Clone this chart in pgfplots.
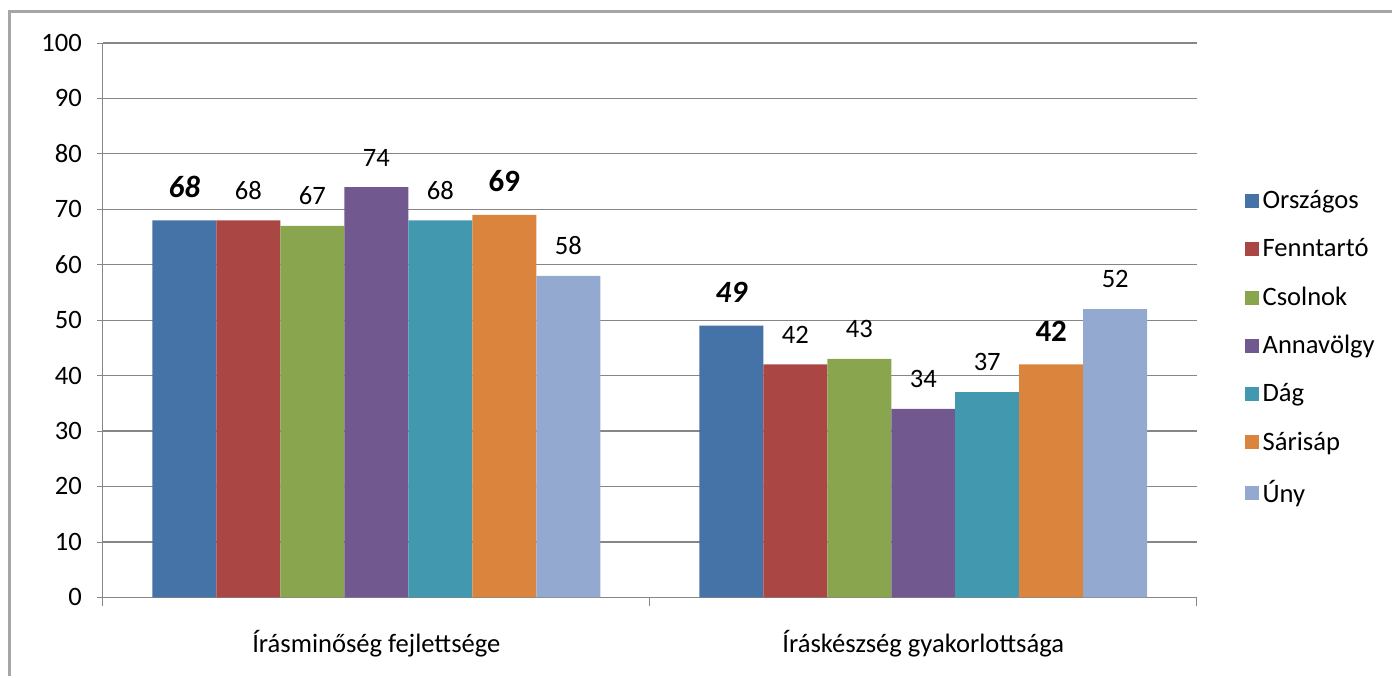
\documentclass[border=0pt]{standalone}
\usepackage{pgfplots}
\pgfplotsset{compat=1.18}
\usepackage{fontspec}
\setmainfont{Carlito}

\definecolor{cOrsz}{HTML}{4572A7}
\definecolor{cFenn}{HTML}{AA4643}
\definecolor{cCsol}{HTML}{89A54E}
\definecolor{cAnna}{HTML}{71588F}
\definecolor{cDag}{HTML}{4198AF}
\definecolor{cSari}{HTML}{DB843D}
\definecolor{cUny}{HTML}{93A9CF}
\definecolor{gridgray}{HTML}{868686}

\begin{document}
\begin{tikzpicture}
\begin{axis}[
    at={(0,0)}, anchor=south west,
    scale only axis,
    width=547.5pt, height=277.5pt,
    ybar=0pt,
    bar width=0.117,
    xmin=-0.5, xmax=1.5,
    ymin=0, ymax=100,
    ytick={0,10,...,100},
    xtick={0,1},
    xticklabels={Írásminőség fejlettsége, Íráskészség gyakorlottsága},
    minor xtick={-0.5,0.5,1.5},
    major x tick style={draw=none},
    tick align=outside,
    major tick length=3pt,
    minor tick length=4.5pt,
    every tick/.style={gridgray},
    axis x line*=bottom,
    axis y line*=left,
    axis line style={gridgray, -},
    ymajorgrids,
    grid style={gridgray, line width=0.6pt},
    font=\fontsize{13.3}{15}\selectfont,
    /pgf/number format/assume math mode=true,
    yticklabel style={xshift=-4pt},
    xticklabel style={yshift=-10pt},
    nodes near coords,
    nodes near coords style={font=\fontsize{13.3}{15}\selectfont, yshift=7pt},
    legend cell align=left,
    legend style={draw=none, at={(1.038,0.45)}, anchor=west,
        row sep=9.5pt, font=\fontsize{13.3}{15}\selectfont},
    legend image code/.code={\fill[#1] (0pt,-3.5pt) rectangle (7pt,3.5pt);},
]
\addplot[fill=cOrsz, draw=none, every node near coord/.append style={font=\fontsize{15.5}{17}\selectfont\bfseries\itshape, yshift=1pt}] coordinates {(0,68) (1,49)};
\addplot[fill=cFenn, draw=none] coordinates {(0,68) (1,42)};
\addplot[fill=cCsol, draw=none] coordinates {(0,67) (1,43)};
\addplot[fill=cAnna, draw=none] coordinates {(0,74) (1,34)};
\addplot[fill=cDag, draw=none] coordinates {(0,68) (1,37)};
\addplot[fill=cSari, draw=none, every node near coord/.append style={font=\fontsize{15.5}{17}\selectfont\bfseries, yshift=1pt}] coordinates {(0,69) (1,42)};
\addplot[fill=cUny, draw=none] coordinates {(0,58) (1,52)};
\legend{Országos, Fenntartó, Csolnok, Annavölgy, Dág, Sárisáp, Úny}
\end{axis}
\draw[gray!70, line width=1.5pt] (-46.5pt,-39.5pt) -- (-46.5pt,293pt) -- (645pt,293pt);
\useasboundingbox (-51.5pt,-39.5pt) rectangle (645pt,299pt);
\end{tikzpicture}
\end{document}
